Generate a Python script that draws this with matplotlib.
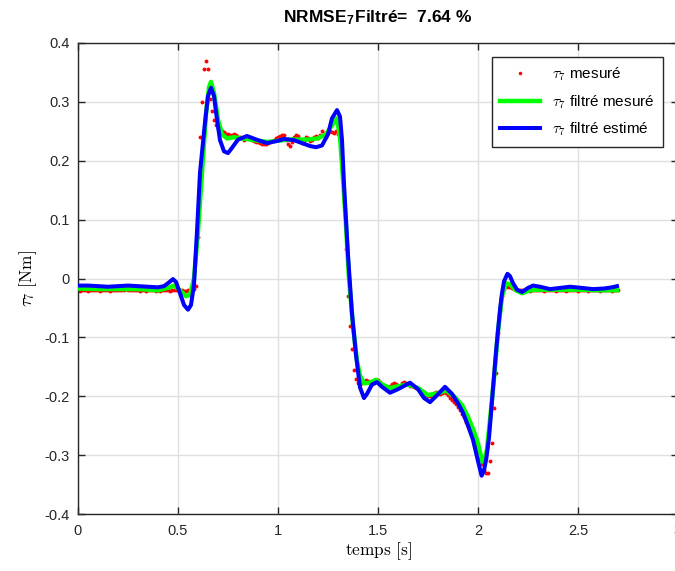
"""Couple tau_7 : mesure brute, mesure filtree et estimation filtree."""

import numpy as np
import matplotlib

matplotlib.use("Agg")
import matplotlib.pyplot as plt
from matplotlib.ticker import FuncFormatter

plt.rcParams["font.family"] = ["Liberation Sans", "DejaVu Sans"]
plt.rcParams["mathtext.fontset"] = "cm"
plt.rcParams["axes.unicode_minus"] = False

TITLE = r"NRMSE$_\mathregular{7}$Filtré=  7.64 %"
X_LABEL = r"$\mathrm{temps\ [s]}$"
Y_LABEL = r"$\tau_7\ \mathrm{[Nm]}$"
LEGEND_LABELS = [r"$\tau_7$ mesuré", r"$\tau_7$ filtré mesuré", r"$\tau_7$ filtré estimé"]

x_ticks = [0, 0.5, 1, 1.5, 2, 2.5, 3]
y_ticks = [-0.4, -0.3, -0.2, -0.1, 0, 0.1, 0.2, 0.3, 0.4]

# mesure brute, echantillonnee a 100 Hz (t = 0 ... 2.70 s)
t_mes = np.arange(271) * 0.01
tau_mes = [
    -0.020, -0.021, -0.020, -0.019, -0.020, -0.021, -0.020, -0.020, -0.019, -0.020,
    -0.020, -0.021, -0.020, -0.020, -0.019, -0.020, -0.021, -0.020, -0.019, -0.020,
    -0.019, -0.020, -0.020, -0.019, -0.018, -0.019, -0.020, -0.020, -0.019, -0.020,
    -0.020, -0.021, -0.020, -0.020, -0.021, -0.020, -0.020, -0.019, -0.020, -0.021,
    -0.020, -0.021, -0.020, -0.020, -0.019, -0.020, -0.021, -0.020, -0.020, -0.019,
    -0.020, -0.021, -0.020, -0.022, -0.021, -0.020, -0.021, -0.020, -0.018, -0.012,
    0.070, 0.240, 0.300, 0.355, 0.370, 0.355, 0.305, 0.285, 0.270, 0.260,
    0.255, 0.252, 0.250, 0.248, 0.245, 0.246, 0.244, 0.243, 0.245, 0.243,
    0.241, 0.240, 0.238, 0.236, 0.238, 0.240, 0.238, 0.235, 0.233, 0.232,
    0.231, 0.230, 0.229, 0.228, 0.229, 0.230, 0.232, 0.234, 0.236, 0.238,
    0.240, 0.242, 0.244, 0.243, 0.236, 0.228, 0.225, 0.232, 0.240, 0.244,
    0.242, 0.235, 0.230, 0.234, 0.240, 0.238, 0.234, 0.235, 0.240, 0.242,
    0.238, 0.243, 0.250, 0.245, 0.240, 0.247, 0.250, 0.248, 0.247, 0.250,
    0.245, 0.235, 0.200, 0.130, 0.050, -0.030, -0.080, -0.120, -0.155, -0.170,
    -0.178, -0.180, -0.178, -0.175, -0.172, -0.174, -0.178, -0.180, -0.178, -0.174,
    -0.172, -0.175, -0.180, -0.184, -0.186, -0.185, -0.183, -0.180, -0.178, -0.180,
    -0.184, -0.182, -0.178, -0.176, -0.178, -0.180, -0.182, -0.183, -0.185, -0.186,
    -0.188, -0.190, -0.192, -0.195, -0.198, -0.200, -0.199, -0.196, -0.194, -0.193,
    -0.194, -0.196, -0.195, -0.193, -0.194, -0.198, -0.203, -0.207, -0.210, -0.213,
    -0.218, -0.224, -0.230, -0.236, -0.243, -0.250, -0.258, -0.266, -0.275, -0.285,
    -0.295, -0.305, -0.315, -0.325, -0.330, -0.330, -0.310, -0.280, -0.220, -0.160,
    -0.093, -0.053, -0.030, -0.018, -0.013, -0.014, -0.015, -0.016, -0.018, -0.019,
    -0.020, -0.019, -0.020, -0.020, -0.019, -0.020, -0.021, -0.020, -0.019, -0.020,
    -0.020, -0.019, -0.020, -0.021, -0.020, -0.020, -0.019, -0.020, -0.020, -0.021,
    -0.020, -0.020, -0.019, -0.020, -0.021, -0.020, -0.020, -0.019, -0.020, -0.020,
    -0.021, -0.020, -0.020, -0.019, -0.020, -0.021, -0.020, -0.020, -0.019, -0.020,
    -0.020, -0.021, -0.020, -0.020, -0.019, -0.020, -0.020, -0.021, -0.020, -0.020,
    -0.020,
]

# mesure filtree
t_filt = [
    0.00, 0.10, 0.20, 0.30, 0.40, 0.45, 0.48, 0.51, 0.54, 0.56,
    0.58, 0.60, 0.62, 0.64, 0.655, 0.665, 0.68, 0.70, 0.72, 0.745,
    0.78, 0.82, 0.86, 0.90, 0.95, 1.00, 1.05, 1.10, 1.15, 1.20,
    1.24, 1.27, 1.295, 1.31, 1.325, 1.34, 1.355, 1.375, 1.395, 1.41,
    1.43, 1.46, 1.49, 1.52, 1.56, 1.60, 1.65, 1.70, 1.75, 1.80,
    1.84, 1.88, 1.92, 1.95, 1.98, 2.00, 2.02, 2.03, 2.045, 2.06,
    2.08, 2.10, 2.12, 2.14, 2.16, 2.19, 2.22, 2.26, 2.30, 2.40,
    2.50, 2.60, 2.695,
]
tau_filt = [
    -0.017, -0.018, -0.018, -0.018, -0.020, -0.016, -0.012, -0.020, -0.030, -0.028,
    0.000, 0.080, 0.180, 0.280, 0.325, 0.334, 0.315, 0.270, 0.245, 0.238,
    0.240, 0.238, 0.236, 0.234, 0.232, 0.234, 0.236, 0.236, 0.236, 0.238,
    0.245, 0.260, 0.272, 0.240, 0.170, 0.090, 0.000, -0.080, -0.140, -0.165,
    -0.178, -0.177, -0.172, -0.180, -0.186, -0.183, -0.180, -0.186, -0.198, -0.195,
    -0.190, -0.200, -0.215, -0.235, -0.260, -0.280, -0.310, -0.312, -0.290, -0.240,
    -0.170, -0.090, -0.030, -0.008, -0.010, -0.020, -0.025, -0.020, -0.019, -0.019,
    -0.019, -0.020, -0.020,
]

# estimation filtree
t_est = [
    0.00, 0.05, 0.10, 0.15, 0.20, 0.25, 0.30, 0.35, 0.40, 0.43,
    0.45, 0.475, 0.49, 0.51, 0.53, 0.55, 0.565, 0.58, 0.595, 0.61,
    0.635, 0.65, 0.665, 0.68, 0.695, 0.71, 0.73, 0.75, 0.77, 0.80,
    0.845, 0.90, 0.945, 1.00, 1.03, 1.08, 1.12, 1.16, 1.19, 1.22,
    1.25, 1.27, 1.295, 1.31, 1.32, 1.33, 1.35, 1.37, 1.39, 1.41,
    1.43, 1.445, 1.47, 1.495, 1.52, 1.56, 1.60, 1.66, 1.70, 1.73,
    1.76, 1.79, 1.835, 1.87, 1.90, 1.925, 1.95, 1.975, 2.00, 2.018,
    2.03, 2.042, 2.055, 2.066, 2.077, 2.09, 2.10, 2.11, 2.12, 2.13,
    2.147, 2.16, 2.175, 2.195, 2.22, 2.25, 2.275, 2.31, 2.36, 2.41,
    2.46, 2.52, 2.575, 2.63, 2.67, 2.695,
]
tau_est = [
    -0.012, -0.012, -0.013, -0.014, -0.013, -0.012, -0.013, -0.014, -0.015, -0.013,
    -0.008, -0.001, -0.006, -0.025, -0.045, -0.053, -0.045, -0.010, 0.080, 0.180,
    0.265, 0.310, 0.324, 0.310, 0.270, 0.235, 0.216, 0.213, 0.222, 0.236,
    0.242, 0.235, 0.230, 0.234, 0.237, 0.235, 0.230, 0.225, 0.223, 0.226,
    0.245, 0.272, 0.286, 0.275, 0.235, 0.160, 0.040, -0.060, -0.130, -0.185,
    -0.203, -0.196, -0.180, -0.176, -0.184, -0.194, -0.188, -0.177, -0.188, -0.203,
    -0.210, -0.200, -0.184, -0.196, -0.212, -0.228, -0.250, -0.274, -0.310, -0.335,
    -0.326, -0.305, -0.270, -0.225, -0.178, -0.125, -0.088, -0.053, -0.025, -0.005,
    0.008, 0.004, -0.008, -0.019, -0.023, -0.016, -0.012, -0.014, -0.018, -0.016,
    -0.014, -0.016, -0.018, -0.017, -0.015, -0.013,
]


def main():
    fig = plt.figure(figsize=(6.75, 5.71), dpi=100)
    ax = fig.add_axes([78 / 675, 57 / 571, 600 / 675, 471 / 571])

    ax.plot(t_mes, tau_mes, linestyle="none", marker="o", markersize=2.8,
            markeredgewidth=0, color="red", label=LEGEND_LABELS[0], zorder=2)
    ax.plot(t_filt, tau_filt, color="#00ff00", linewidth=3.2,
            label=LEGEND_LABELS[1], zorder=3)
    ax.plot(t_est, tau_est, color="#0000ff", linewidth=2.9,
            label=LEGEND_LABELS[2], zorder=4)

    ax.set_xlim(0, 3)
    ax.set_ylim(-0.4, 0.4)
    ax.set_xticks(x_ticks)
    ax.set_yticks(y_ticks)
    ax.xaxis.set_major_formatter(FuncFormatter(lambda v, _: f"{v:g}"))
    ax.yaxis.set_major_formatter(FuncFormatter(lambda v, _: f"{v:g}"))

    ax.grid(True, color="#e0e0e0", linewidth=1.0)
    ax.set_axisbelow(True)
    ax.tick_params(direction="in", length=5, width=1, color="#262626",
                   labelsize=10.5, labelcolor="#262626", top=True, right=True)
    ax.tick_params(axis="x", pad=7)
    ax.tick_params(axis="y", pad=6)
    for spine in ax.spines.values():
        spine.set_color("#262626")
        spine.set_linewidth(1.0)

    ax.set_xlabel(X_LABEL, fontsize=12.5, labelpad=2)
    ax.set_ylabel(Y_LABEL, fontsize=12.5, labelpad=4)
    ax.set_title(TITLE, fontsize=12.5, fontweight="bold", pad=15)

    leg = ax.legend(loc="upper right", bbox_to_anchor=(0.975, 0.97),
                    borderaxespad=0, fontsize=11, fancybox=False,
                    framealpha=1, edgecolor="#262626", handlelength=2.6,
                    labelspacing=0.65, borderpad=0.55, markerscale=0.9)
    leg.get_frame().set_linewidth(1.0)

    fig.savefig("out.png", dpi=100, facecolor="white")
    plt.close(fig)


if __name__ == "__main__":
    main()
